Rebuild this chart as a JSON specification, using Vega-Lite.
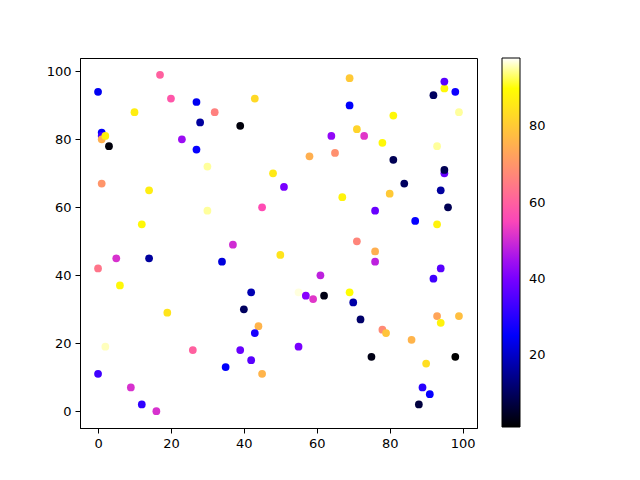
{
  "$schema": "https://vega.github.io/schema/vega-lite/v6.json",
  "width": 397,
  "height": 370,
  "autosize": {"type": "none"},
  "padding": {"left": 80, "top": 58, "right": 163, "bottom": 52},
  "background": "white",
  "config": {
    "view": {"stroke": "black", "strokeWidth": 1},
    "font": "DejaVu Sans"
  },
  "data": {
    "values": [
      {"x": 17, "y": 99, "c": 60}, {"x": 0, "y": 94, "c": 24}, {"x": 20, "y": 92, "c": 58},
      {"x": 27, "y": 91, "c": 24}, {"x": 43, "y": 92, "c": 83}, {"x": 10, "y": 88, "c": 87},
      {"x": 32, "y": 88, "c": 66}, {"x": 28, "y": 85, "c": 16}, {"x": 39, "y": 84, "c": 2},
      {"x": 1, "y": 82, "c": 25}, {"x": 1, "y": 81, "c": 33}, {"x": 1, "y": 80, "c": 75},
      {"x": 2, "y": 81, "c": 88}, {"x": 3, "y": 78, "c": 2}, {"x": 23, "y": 80, "c": 44},
      {"x": 27, "y": 77, "c": 26}, {"x": 30, "y": 72, "c": 95}, {"x": 48, "y": 70, "c": 86},
      {"x": 1, "y": 67, "c": 70}, {"x": 14, "y": 65, "c": 87}, {"x": 30, "y": 59, "c": 95},
      {"x": 45, "y": 60, "c": 56}, {"x": 12, "y": 55, "c": 89}, {"x": 37, "y": 49, "c": 50},
      {"x": 51, "y": 66, "c": 40}, {"x": 69, "y": 98, "c": 80}, {"x": 95, "y": 95, "c": 89},
      {"x": 95, "y": 97, "c": 36}, {"x": 98, "y": 94, "c": 27}, {"x": 92, "y": 93, "c": 10},
      {"x": 69, "y": 90, "c": 25}, {"x": 99, "y": 88, "c": 95}, {"x": 81, "y": 87, "c": 89},
      {"x": 71, "y": 83, "c": 82}, {"x": 64, "y": 81, "c": 43}, {"x": 73, "y": 81, "c": 52},
      {"x": 78, "y": 79, "c": 89}, {"x": 93, "y": 78, "c": 95}, {"x": 58, "y": 75, "c": 75},
      {"x": 65, "y": 76, "c": 69}, {"x": 81, "y": 74, "c": 9}, {"x": 95, "y": 70, "c": 38},
      {"x": 95, "y": 71, "c": 9}, {"x": 84, "y": 67, "c": 10}, {"x": 67, "y": 63, "c": 88},
      {"x": 80, "y": 64, "c": 80}, {"x": 94, "y": 65, "c": 16}, {"x": 96, "y": 60, "c": 9},
      {"x": 76, "y": 59, "c": 38}, {"x": 87, "y": 56, "c": 26}, {"x": 93, "y": 55, "c": 88},
      {"x": 71, "y": 50, "c": 67}, {"x": 50, "y": 46, "c": 85}, {"x": 5, "y": 45, "c": 51},
      {"x": 14, "y": 45, "c": 16}, {"x": 0, "y": 42, "c": 64}, {"x": 34, "y": 44, "c": 22},
      {"x": 6, "y": 37, "c": 89}, {"x": 42, "y": 35, "c": 18}, {"x": 19, "y": 29, "c": 85},
      {"x": 40, "y": 30, "c": 10}, {"x": 44, "y": 25, "c": 76}, {"x": 43, "y": 23, "c": 28},
      {"x": 2, "y": 19, "c": 96}, {"x": 26, "y": 18, "c": 60}, {"x": 39, "y": 18, "c": 38},
      {"x": 42, "y": 15, "c": 36}, {"x": 0, "y": 11, "c": 33}, {"x": 35, "y": 13, "c": 25},
      {"x": 45, "y": 11, "c": 76}, {"x": 9, "y": 7, "c": 51}, {"x": 12, "y": 2, "c": 31},
      {"x": 16, "y": 0, "c": 51}, {"x": 76, "y": 47, "c": 75}, {"x": 76, "y": 44, "c": 48},
      {"x": 61, "y": 40, "c": 48}, {"x": 94, "y": 42, "c": 36}, {"x": 92, "y": 39, "c": 33},
      {"x": 55, "y": 35, "c": 97}, {"x": 57, "y": 34, "c": 42}, {"x": 59, "y": 33, "c": 52},
      {"x": 62, "y": 34, "c": 3}, {"x": 69, "y": 35, "c": 90}, {"x": 70, "y": 32, "c": 17},
      {"x": 72, "y": 27, "c": 11}, {"x": 78, "y": 24, "c": 68}, {"x": 79, "y": 23, "c": 79},
      {"x": 93, "y": 28, "c": 73}, {"x": 94, "y": 26, "c": 88}, {"x": 99, "y": 28, "c": 78},
      {"x": 86, "y": 21, "c": 76}, {"x": 55, "y": 19, "c": 40}, {"x": 75, "y": 16, "c": 3},
      {"x": 98, "y": 16, "c": 1}, {"x": 90, "y": 14, "c": 84}, {"x": 89, "y": 7, "c": 30},
      {"x": 91, "y": 5, "c": 26}, {"x": 88, "y": 2, "c": 7}
    ]
  },
  "mark": {"type": "circle", "size": 60, "opacity": 1},
  "encoding": {
    "x": {
      "field": "x",
      "type": "quantitative",
      "scale": {"domain": [-4.95, 103.95], "nice": false, "zero": false},
      "axis": {
        "values": [0, 20, 40, 60, 80, 100],
        "title": null,
        "grid": false,
        "domainColor": "black",
        "tickColor": "black",
        "tickSize": 5,
        "labelColor": "black",
        "labelFontSize": 13,
        "labelPadding": 4
      }
    },
    "y": {
      "field": "y",
      "type": "quantitative",
      "scale": {"domain": [-4.95, 103.95], "nice": false, "zero": false},
      "axis": {
        "values": [0, 20, 40, 60, 80, 100],
        "title": null,
        "grid": false,
        "domainColor": "black",
        "tickColor": "black",
        "tickSize": 5,
        "labelColor": "black",
        "labelFontSize": 13,
        "labelPadding": 4
      }
    },
    "color": {
      "field": "c",
      "type": "quantitative",
      "scale": {
        "domain": [1, 25.25, 41.74, 55.56, 90.24, 98],
        "range": ["#000000", "#0000ff", "#8700ff", "#ff49b6", "#ffff00", "#ffffff"],
        "interpolate": "rgb"
      },
      "legend": {
        "title": null,
        "orient": "right",
        "offset": 25,
        "direction": "vertical",
        "gradientLength": 369,
        "gradientThickness": 18,
        "gradientStrokeColor": "black",
        "gradientStrokeWidth": 1,
        "values": [20, 40, 60, 80],
        "labelFontSize": 13,
        "labelColor": "black",
        "labelOffset": 9
      }
    }
  }
}
